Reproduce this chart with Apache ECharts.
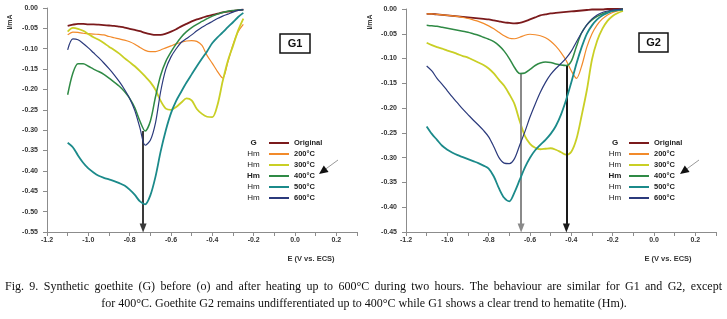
<!DOCTYPE html>
<html><head><meta charset="utf-8">
<script src="https://cdn.jsdelivr.net/npm/echarts@6/dist/echarts.min.js"></script>
<style>html,body{margin:0;padding:0;background:#fff}#c{width:727px;height:319px}</style>
</head><body><div id="c"></div>
<script>
// ---- data ----
const seriesNames = ['Original','200°C','300°C','400°C','500°C','600°C'];
const prefixes = ['G','Hm','Hm','Hm','Hm','Hm'];
const xTicks = [-1.2,-1.0,-0.8,-0.6,-0.4,-0.2,0.0,0.2];

const E1 = [-1.100,-1.075,-1.050,-1.025,-1.000,-0.975,-0.950,-0.925,-0.900,-0.875,-0.850,-0.825,-0.800,-0.775,-0.750,-0.725,-0.700,-0.675,-0.650,-0.625,-0.600,-0.575,-0.550,-0.525,-0.500,-0.475,-0.450,-0.425,-0.400,-0.375,-0.350,-0.325,-0.300,-0.275,-0.250];
const g1Original = [-0.044,-0.041,-0.039,-0.039,-0.040,-0.040,-0.041,-0.042,-0.043,-0.044,-0.046,-0.048,-0.051,-0.054,-0.057,-0.061,-0.064,-0.066,-0.066,-0.063,-0.058,-0.052,-0.045,-0.039,-0.033,-0.028,-0.024,-0.020,-0.017,-0.014,-0.011,-0.009,-0.007,-0.005,-0.004];
const g1T200 = [-0.066,-0.059,-0.060,-0.062,-0.063,-0.064,-0.065,-0.066,-0.070,-0.073,-0.076,-0.079,-0.083,-0.089,-0.097,-0.104,-0.107,-0.107,-0.103,-0.098,-0.093,-0.088,-0.084,-0.081,-0.080,-0.082,-0.092,-0.117,-0.136,-0.156,-0.172,-0.133,-0.090,-0.058,-0.040];
const g1T300 = [-0.058,-0.049,-0.051,-0.056,-0.064,-0.072,-0.078,-0.086,-0.095,-0.103,-0.112,-0.123,-0.133,-0.143,-0.155,-0.168,-0.182,-0.201,-0.228,-0.247,-0.250,-0.243,-0.232,-0.222,-0.227,-0.248,-0.260,-0.267,-0.268,-0.238,-0.180,-0.130,-0.093,-0.055,-0.026];
const g1T400 = [-0.213,-0.160,-0.137,-0.137,-0.143,-0.150,-0.156,-0.163,-0.172,-0.182,-0.192,-0.205,-0.222,-0.245,-0.278,-0.302,-0.278,-0.218,-0.165,-0.131,-0.108,-0.088,-0.071,-0.058,-0.048,-0.040,-0.033,-0.026,-0.020,-0.015,-0.011,-0.008,-0.006,-0.005,-0.004];
const g1T500 = [-0.331,-0.342,-0.362,-0.380,-0.394,-0.404,-0.412,-0.417,-0.421,-0.425,-0.430,-0.436,-0.446,-0.459,-0.475,-0.482,-0.460,-0.414,-0.352,-0.300,-0.258,-0.228,-0.205,-0.183,-0.163,-0.143,-0.124,-0.106,-0.086,-0.072,-0.060,-0.047,-0.035,-0.022,-0.012];
const g1T600 = [-0.103,-0.076,-0.078,-0.087,-0.098,-0.110,-0.122,-0.135,-0.149,-0.164,-0.181,-0.200,-0.222,-0.252,-0.295,-0.337,-0.325,-0.282,-0.205,-0.150,-0.120,-0.100,-0.084,-0.075,-0.066,-0.056,-0.047,-0.040,-0.033,-0.026,-0.020,-0.015,-0.010,-0.006,-0.004];

const E2 = [-1.100,-1.075,-1.050,-1.025,-1.000,-0.975,-0.950,-0.925,-0.900,-0.875,-0.850,-0.825,-0.800,-0.775,-0.750,-0.725,-0.700,-0.675,-0.650,-0.625,-0.600,-0.575,-0.550,-0.525,-0.500,-0.475,-0.450,-0.425,-0.400,-0.375,-0.350,-0.325,-0.300,-0.275,-0.250,-0.225,-0.200,-0.175,-0.150];
const g2Original = [-0.010,-0.010,-0.011,-0.012,-0.013,-0.014,-0.015,-0.016,-0.017,-0.018,-0.019,-0.020,-0.021,-0.023,-0.025,-0.027,-0.028,-0.029,-0.028,-0.025,-0.021,-0.017,-0.013,-0.011,-0.009,-0.008,-0.007,-0.006,-0.005,-0.004,-0.003,-0.002,-0.001,-0.001,-0.001,0,0,0,0];
const g2T200 = [-0.010,-0.010,-0.011,-0.012,-0.013,-0.014,-0.015,-0.017,-0.019,-0.022,-0.025,-0.029,-0.034,-0.040,-0.047,-0.054,-0.059,-0.060,-0.057,-0.053,-0.051,-0.052,-0.054,-0.058,-0.065,-0.075,-0.088,-0.104,-0.125,-0.140,-0.115,-0.077,-0.050,-0.032,-0.020,-0.012,-0.007,-0.004,-0.002];
const g2T300 = [-0.068,-0.073,-0.077,-0.080,-0.084,-0.087,-0.091,-0.095,-0.098,-0.103,-0.108,-0.113,-0.120,-0.130,-0.143,-0.155,-0.172,-0.192,-0.226,-0.256,-0.272,-0.280,-0.283,-0.282,-0.281,-0.284,-0.289,-0.294,-0.288,-0.262,-0.215,-0.164,-0.102,-0.064,-0.040,-0.024,-0.014,-0.008,-0.004];
const g2T400 = [-0.033,-0.034,-0.035,-0.037,-0.039,-0.041,-0.043,-0.045,-0.047,-0.050,-0.053,-0.057,-0.061,-0.066,-0.074,-0.085,-0.100,-0.118,-0.130,-0.129,-0.122,-0.114,-0.109,-0.107,-0.108,-0.111,-0.113,-0.114,-0.105,-0.075,-0.048,-0.032,-0.022,-0.015,-0.010,-0.006,-0.004,-0.002,-0.001];
const g2T500 = [-0.237,-0.252,-0.264,-0.276,-0.284,-0.290,-0.295,-0.299,-0.303,-0.307,-0.311,-0.316,-0.322,-0.338,-0.362,-0.381,-0.388,-0.370,-0.345,-0.320,-0.300,-0.285,-0.274,-0.264,-0.252,-0.236,-0.213,-0.183,-0.148,-0.110,-0.077,-0.050,-0.033,-0.021,-0.013,-0.008,-0.004,-0.002,-0.001];
const g2T600 = [-0.115,-0.125,-0.140,-0.152,-0.165,-0.178,-0.190,-0.202,-0.213,-0.224,-0.234,-0.245,-0.258,-0.278,-0.300,-0.311,-0.312,-0.302,-0.275,-0.248,-0.218,-0.192,-0.168,-0.148,-0.132,-0.120,-0.110,-0.099,-0.085,-0.066,-0.048,-0.032,-0.020,-0.012,-0.007,-0.004,-0.002,-0.001,0];

// arrows: [E, I start, I end (arrow centre just above the axis)]
const arrowsG1 = [[-0.735,-0.302,-0.540]];
const arrowsG2 = [[-0.643,-0.131,-0.442],[-0.424,-0.114,-0.442]];

const caption1 = 'Fig. 9. Synthetic goethite (G) before (o) and after heating up to 600°C during two hours. The behaviour are similar for G1 and G2, except';
const caption2 = 'for 400°C. Goethite G2 remains undifferentiated up to 400°C while G1 shows a clear trend to hematite (Hm).';

// ---- styles ----
const colors = ['#7b1a1c','#f28a2a','#c9cf25','#2f8a45','#1b8a8a','#2b3a7c'];
const widths = [1.8,1.2,1.8,1.5,1.8,1.2];
const arrowColorsG1 = ['#3a3a3a'];
const arrowColorsG2 = ['#8a8a8a','#1a1a1a'];
const SANS = '"Liberation Sans", Arial, sans-serif';
const SERIF = '"Liberation Serif", "Times New Roman", serif';
const CAP_FONT = '12px ' + SERIF;

const chart = echarts.init(document.getElementById('c'), null, {renderer:'canvas'});
const zip = (xs, ys) => xs.map((x,i)=>[x, ys[i]]);

function xAxis(gi){
  return {gridIndex:gi, type:'value', min:-1.2, max:0.3, interval:0.2,
    axisLine:{show:true,onZero:false,lineStyle:{color:'#8c8c8c',width:1}},
    axisTick:{show:true,length:4,lineStyle:{color:'#8c8c8c'}},
    minorTick:{show:true,splitNumber:2,length:4,lineStyle:{color:'#8c8c8c'}},
    splitLine:{show:false},
    axisLabel:{formatter:v=>v.toFixed(1), showMaxLabel:false, fontSize:7, fontWeight:'bold', fontFamily:SANS, color:'#333', margin:5}};
}
function yAxis(gi, min){
  return {gridIndex:gi, type:'value', min:min, max:0, interval:0.05,
    axisLine:{show:true,onZero:false,lineStyle:{color:'#8c8c8c',width:1}},
    axisTick:{show:true,length:4,lineStyle:{color:'#8c8c8c'}},
    splitLine:{show:false},
    axisLabel:{formatter:v=>v.toFixed(2), fontSize:7, fontWeight:'bold', fontFamily:SANS, color:'#333', margin:9}};
}
function mkSeries(gi, E, arrs, arrows, arrowColors){
  return arrs.map((ys,k)=>{
    const s = {type:'line', name:seriesNames[k], xAxisIndex:gi, yAxisIndex:gi,
      data:zip(E, ys), symbol:'none', smooth:0.3, silent:true,
      lineStyle:{color:colors[k], width:widths[k]}, itemStyle:{color:colors[k]}, z:2+k};
    if (k===3){
      s.markLine = {silent:true, symbol:['none','triangle'], symbolSize:[7,9], animation:false,
        label:{show:false}, emphasis:{disabled:true},
        data: arrows.map((a,j)=>[{coord:[a[0],a[1]], lineStyle:{color:arrowColors[j],width:2,type:'solid'}},{coord:[a[0],a[2]]}])};
    }
    return s;
  });
}
function legend(left){
  return {orient:'vertical', left:left, top:138, itemWidth:20, itemHeight:10, itemGap:1, padding:0,
    selectedMode:false, data:seriesNames,
    itemStyle:{opacity:0, borderWidth:0},
    textStyle:{fontSize:7.5, lineHeight:10, fontWeight:'bold', fontFamily:SANS, color:'#222'}};
}
function prefixTexts(cx){
  return prefixes.map((p,i)=>({type:'text', x:cx, y:143+i*11, silent:true,
    style:{text:p, font:((i===0||i===3)?'bold ':'')+'8px '+SANS, fill:'#222', align:'center', verticalAlign:'middle'}}));
}
function legendArrow(dx){
  return [
    {type:'line', silent:true, shape:{x1:338+dx,y1:160,x2:325+dx,y2:169.5}, style:{stroke:'#9a9a9a', lineWidth:1}},
    {type:'polygon', silent:true, shape:{points:[[319+dx,174],[328.6+dx,171.9],[323.8+dx,165.5]]}, style:{fill:'#111'}}
  ];
}
// justified first caption line (word positions from text measurement)
function justified(text, x0, x1, y){
  const ctx = document.createElement('canvas').getContext('2d');
  ctx.font = CAP_FONT;
  const words = text.split(' ');
  const ws = words.map(w=>ctx.measureText(w).width);
  const sum = ws.reduce((a,b)=>a+b,0);
  const gap = (x1 - x0 - sum)/(words.length-1);
  let x = x0;
  return words.map((w,i)=>{
    const el = {type:'text', silent:true, x:x, y:y, style:{text:w, font:CAP_FONT, fill:'#111', align:'left', verticalAlign:'middle'}};
    x += ws[i] + gap;
    return el;
  });
}

const graphic = [].concat(
  prefixTexts(253.5), prefixTexts(615),
  legendArrow(0), legendArrow(361),
  justified(caption1, 5, 722, 287),
  [
    {type:'rect', silent:true, shape:{x:280,y:34,width:30,height:19}, style:{fill:'#fff', stroke:'#111', lineWidth:1.5}},
    {type:'text', silent:true, x:295, y:43.5, style:{text:'G1', font:'bold 11px '+SANS, fill:'#111', align:'center', verticalAlign:'middle'}},
    {type:'rect', silent:true, shape:{x:639,y:33,width:29,height:19}, style:{fill:'#fff', stroke:'#111', lineWidth:1.5}},
    {type:'text', silent:true, x:653.5, y:42.5, style:{text:'G2', font:'bold 11px '+SANS, fill:'#111', align:'center', verticalAlign:'middle'}},
    {type:'text', silent:true, x:10, y:22, rotation:Math.PI/2, style:{text:'I/mA', font:'bold 7px '+SANS, fill:'#333', align:'center', verticalAlign:'middle'}},
    {type:'text', silent:true, x:370, y:22, rotation:Math.PI/2, style:{text:'I/mA', font:'bold 7px '+SANS, fill:'#333', align:'center', verticalAlign:'middle'}},
    {type:'text', silent:true, x:311, y:259, style:{text:'E (V vs. ECS)', font:'bold 7.5px '+SANS, fill:'#333', align:'center', verticalAlign:'middle'}},
    {type:'text', silent:true, x:668, y:259, style:{text:'E (V vs. ECS)', font:'bold 7.5px '+SANS, fill:'#333', align:'center', verticalAlign:'middle'}},
    {type:'text', silent:true, x:364, y:304, style:{text:caption2, font:CAP_FONT, fill:'#111', align:'center', verticalAlign:'middle'}}
  ]
);

chart.setOption({
  backgroundColor:'#fff',
  animation:false,
  grid:[{left:47, top:8, width:310, height:224}, {left:406, top:9, width:310, height:223}],
  xAxis:[xAxis(0), xAxis(1)],
  yAxis:[yAxis(0,-0.55), yAxis(1,-0.45)],
  legend:[legend(268), legend(628)],
  series:[].concat(
    mkSeries(0, E1, [g1Original,g1T200,g1T300,g1T400,g1T500,g1T600], arrowsG1, arrowColorsG1),
    mkSeries(1, E2, [g2Original,g2T200,g2T300,g2T400,g2T500,g2T600], arrowsG2, arrowColorsG2)
  ),
  graphic: graphic
});
</script>
</body></html>
